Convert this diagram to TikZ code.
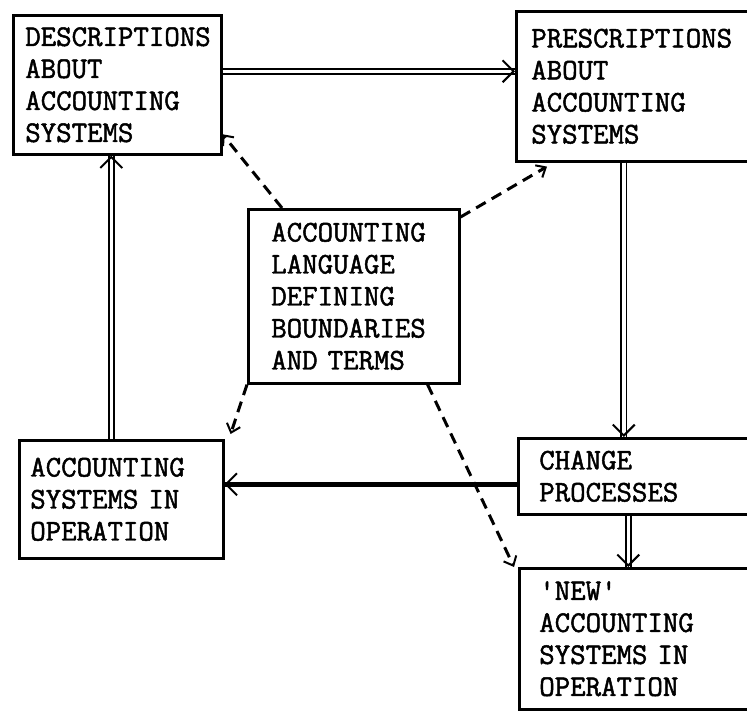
\documentclass[tikz,border=0pt]{standalone}
\usepackage{fontspec}
\usetikzlibrary{arrows.meta}
\newfontfamily\typewriter[FakeBold=1.6]{Latin Modern Mono}
\begin{document}
\begin{tikzpicture}[x=1pt,y=-1pt,
  box/.style={draw, line width=2.6pt, rectangle, anchor=north west,
    inner ysep=0pt, align=left,
    font=\typewriter\fontsize{30pt}{32pt}\selectfont},
  dbl/.style={double, double distance=3.5pt, line width=1.8pt},
  barb/.style={line width=2pt, -{Straight Barb[length=11pt,width=22pt]}},
  heavy/.style={line width=5pt},
  dsh/.style={line width=3pt, dash pattern=on 11pt off 7pt,
    -{Straight Barb[length=8pt,width=14pt,line width=2pt]}}]
\useasboundingbox (0,0) rectangle (747,711);
\clip (0,0) rectangle (747,711);

% boxes
\node[box, minimum width=208pt, minimum height=139pt, inner xsep=12pt, text width=184pt]
  (desc) at (12,14) {DESCRIPTIONS\\ABOUT\\ACCOUNTING\\SYSTEMS};
\node[box, minimum width=245pt, minimum height=150pt, inner xsep=15pt, text width=215pt]
  (presc) at (515,10) {PRESCRIPTIONS\\ABOUT\\ACCOUNTING\\SYSTEMS};
\node[box, minimum width=211pt, minimum height=174pt, inner xsep=23pt, text width=165pt]
  (lang) at (247,208) {ACCOUNTING\\LANGUAGE\\DEFINING\\BOUNDARIES\\AND TERMS};
\node[box, minimum width=204pt, minimum height=118pt, inner xsep=11pt, text width=182pt]
  (aso) at (18,439) {ACCOUNTING\\SYSTEMS IN\\OPERATION};
\node[box, minimum width=240pt, minimum height=76pt, inner xsep=21pt, text width=198pt]
  (chg) at (517,437) {CHANGE\\PROCESSES};
\node[box, minimum width=240pt, minimum height=141pt, inner xsep=20pt, text width=200pt]
  (new) at (518,567) {\textquotesingle NEW\textquotesingle\\ACCOUNTING\\SYSTEMS IN\\OPERATION};

% connector end points on the box edges
\coordinate (a1) at ([yshift=13.5pt]desc.east);
\coordinate (a2) at (a1 -| presc.west);
\coordinate (b1) at ([xshift=-15pt]presc.south);
\coordinate (b2) at (b1 |- chg.north);
\coordinate (c1) at ([xshift=-10pt]chg.south);
\coordinate (c2) at (c1 |- new.north);
\coordinate (d1) at ([yshift=-8pt]chg.west);
\coordinate (d2) at (d1 -| aso.east);
\coordinate (e1) at ([xshift=-10pt]aso.north);
\coordinate (e2) at (e1 |- desc.south);

% double-line flows
\draw[dbl] (a1) -- (a2);
\draw[barb] ([xshift=-1pt]a2) -- (a2);
\draw[dbl] (b1) -- (b2);
\draw[barb] ([yshift=1pt]b2) -- (b2);
\draw[dbl] (c1) -- (c2);
\draw[barb] ([yshift=1pt]c2) -- (c2);
\draw[dbl] (e1) -- (e2);
\draw[barb] ([yshift=-1pt]e2) -- (e2);

% heavy flow back to systems in operation
\draw[heavy] (d1) -- (d2);
\draw[barb] ([xshift=1pt]d2) -- (d2);

% dashed links from the accounting language
\draw[dsh] ([xshift=35pt]lang.north west) -- ([yshift=-49.5pt]desc.east);
\draw[dsh] ([yshift=-9pt]lang.north east) -- ([xshift=32pt,yshift=-4pt]presc.south west);
\draw[dsh] (lang.south west) -- ([xshift=6pt,yshift=5pt]aso.north east);
\draw[dsh] ([xshift=-33pt]lang.south east) -- ([xshift=-4pt]new.north west);
\end{tikzpicture}
\end{document}
